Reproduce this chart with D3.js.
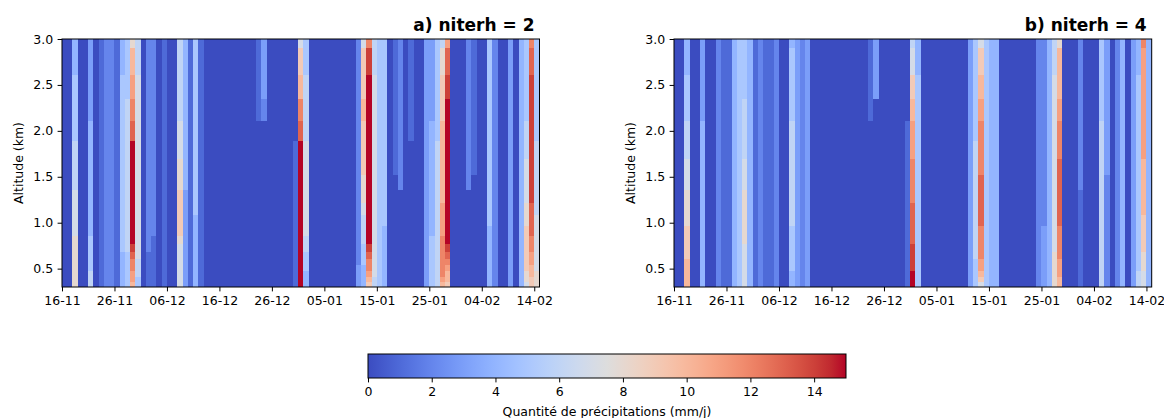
<!DOCTYPE html>
<html><head><meta charset="utf-8">
<script src="https://cdn.jsdelivr.net/npm/d3@7"></script>
<style>
body{margin:0;background:#fff}
svg{display:block}
text{font-family:"DejaVu Sans",sans-serif;fill:#000}
</style>
</head><body>
<svg id="chart" width="1164" height="418"></svg>
<script>
// ---------- data ----------
const firstDay = "2022-11-16";   // first daily column
const lastDayEnd = "2023-02-15"; // end of last daily column (14-02 inclusive)
const dateTickLabels = ["16-11","26-11","06-12","16-12","26-12","05-01","15-01","25-01","04-02","14-02"];
// model level boundaries (km), bottom -> top
const altitudeEdges = [0.30,0.36,0.415,0.475,0.54,0.61,0.685,0.77,0.865,0.965,1.085,1.22,1.36,1.52,1.70,1.89,2.11,2.355,2.615,2.905,3.0];
const altitudeTicks = [0.5,1.0,1.5,2.0,2.5,3.0];
const colorbarTicks = [0,2,4,6,8,10,12,14];
const panelTitles = ["a) niterh = 2","b) niterh = 4"];
const colorbarLabel = "Quantité de précipitations (mm/j)";
// coolwarm colormap control colours
const coolwarmStops = [
 [59,76,192],[68,90,204],[77,104,215],[87,117,225],[98,130,234],[108,142,241],[119,154,247],[130,165,251],
 [141,176,254],[152,185,255],[163,194,255],[174,201,253],[184,208,249],[194,213,244],[204,217,238],[213,219,230],
 [221,221,221],[229,216,209],[236,211,197],[241,204,185],[245,196,173],[247,187,160],[247,177,148],[247,166,135],
 [244,154,123],[241,141,111],[236,127,99],[229,112,88],[222,96,77],[213,80,66],[203,62,56],[192,40,47],[180,4,38]];
// precipitation (mm/j), one string per day, one hex digit per level (bottom -> top)
const precipNiterh2 = [
 "00000000000000000000","00000000000000000000","88888888777766655544","00000000000000000000","00000000000000000000",
 "66655555444444443333","00000000000000000000","11111111111111111111","22222222222222222222","22222222222222222222",
 "11111111111111111111","44444455555555555544","55555566666666666555","ABBCCDEFFFFFFFFDCBA8","55666777777777777766",
 "00000000000000000000","11111122222222222222","11111111222222222222","00000000000000000000","11111111111111111111",
 "00000000000000000000","00000000000000000000","77777778999988776666","33333333333344444444","11111111111111111111",
 "44444444445555555555","11111111111111111111","00000000000000000000","00000000000000000000","00000000000000000000",
 "00000000000000000000","00000000000000000000","00000000000000000000","00000000000000000000","00000000000000000000",
 "00000000000000000000","00000000000000000000","00000000000000001111","00000000000000002333","00000000000000000000",
 "00000000000000000000","00000000000000000000","00000000000000000000","00000000000000000000","11111111111111100000",
 "FFFFFFFFFFFFFFFDCA97","44455566777777766655","00000000000000000000","00000000000000000000","00000000000000000000",
 "00000000000000000000","00000000000000000000","00000000000000000000","00000000000000000000","00000000000000000000",
 "00000000000000000000","33332222222222222222","4444555666788999A997","9ABCCDEFFFFFFFFFFFEC","66777777777777777766",
 "55555555555555555555","44444444455555555555","00000000000000000000","00000000000001111111","00000000000022222222",
 "00000000000000000000","00000000000000011111","00000000000000000000","00000000000000000000","33333333333333333333",
 "55555555444444443333","66666666666666655555","ABCCCCCCBBBAAAAA9986","9AABCDEFFFFFFFFFFEDB","00000000000000000000",
 "00000000000000000000","00000000000000000000","00000000000022222222","00000000000001111111","00000000000000000000",
 "00000000000000000000","44444444455555555555","22222222222222222222","00000000000000000000","00000000000000000000",
 "33333333333333333333","00000000000000000000","44444444444444444444","78899999988777665555","99AABBCCDDDEEEEEEEDC",
 "88877777776666655555"];
const precipNiterh4 = [
 "00000000000000000000","00000000000000000000","AAAAA999988877665544","00000000000000000000","00000000000000000000",
 "44444444444444443333","00000000000000000000","00000000000000000000","22222222222222222222","11111111111111111111",
 "11111111111111111111","44444444444444444444","55555555555555555555","77777778888877666555","44444444444444444444",
 "11111111111111111111","22222222222222222222","11111111111111111111","11111111111111111111","22222222222222222222",
 "00000000000000000000","00000000000000000000","44455555566666665554","33333333333333333333","22222222222222222222",
 "33333333333333333333","00000000000000000000","00000000000000000000","00000000000000000000","00000000000000000000",
 "00000000000000000000","00000000000000000000","00000000000000000000","00000000000000000000","00000000000000000000",
 "00000000000000000000","00000000000000000000","00000000000000001111","00000000000000000333","00000000000000000000",
 "00000000000000000000","00000000000000000000","00000000000000000000","00000000000000000000","11111111111111110000",
 "FFFEEEEDDDDCCCBBA976","55555555555555555544","00000000000000000000","00000000000000000000","00000000000000000000",
 "00000000000000000000","00000000000000000000","00000000000000000000","00000000000000000000","00000000000000000000",
 "00000000000000000000","33333333333333333333","55555666666666655555","79ABBCCCCDDDDCCCBA97","55555555555555555555",
 "44444444444444444444","44444444444444444444","00000000000000000000","00000000000000000000","00000000000000000000",
 "00000000000000000000","00000000000000000000","00000000000000000000","00000000000000000000","22222222222222222222",
 "33333333322222222222","44444444444444444444","88888877777777777766","AABBBCCCCDDDDDCCBAA8","00000000000000000000",
 "00000000000000000000","00000000000000000000","11111111111122222222","00000000000000000000","00000000000000000000",
 "00000000000000000000","66666666666666665555","22222222222223333333","00000000000000000000","22222222222222222222",
 "44444444444444444444","00000000000000000000","33333333333333333333","66655555555555555544","7778889999AAAABBBBBC",
 "44444444444444444444"];

// ---------- helpers ----------
const svg = d3.select("#chart");
const dayStart = new Date(firstDay + "T00:00:00Z");
const dayEnd = new Date(lastDayEnd + "T00:00:00Z");
const days = d3.utcDay.range(dayStart, dayEnd);
const tickDates = dateTickLabels.map(s => {
  const [d, m] = s.split("-").map(Number);
  return new Date(Date.UTC(m >= 9 ? 2022 : 2023, m - 1, d));
});
const coolwarm = d3.piecewise(d3.interpolateRgb, coolwarmStops.map(c => d3.rgb(c[0], c[1], c[2])));
const color = d3.scaleSequential(coolwarm).domain([0, 15]).clamp(true);

const plotTop = 39, plotBottom = 287;
const panels = [
  {x0: 62, x1: 539.5, data: precipNiterh2, title: panelTitles[0], ylabX: 18.5},
  {x0: 674, x1: 1151.7, data: precipNiterh4, title: panelTitles[1], ylabX: 630}
];

panels.forEach(p => {
  const x = d3.scaleUtc().domain([dayStart, dayEnd]).range([p.x0, p.x1]);
  const y = d3.scaleLinear().domain([0.3, 3.0]).range([plotBottom, plotTop]);
  const g = svg.append("g");
  const cells = [];
  days.forEach((d, i) => {
    const col = p.data[i];
    for (let j = 0; j < altitudeEdges.length - 1; j++) {
      cells.push({d0: d, d1: d3.utcDay.offset(d, 1), a0: altitudeEdges[j], a1: altitudeEdges[j + 1], v: parseInt(col[j], 16)});
    }
  });
  g.append("g").attr("shape-rendering", "crispEdges").selectAll("rect").data(cells).join("rect")
    .attr("x", c => x(c.d0)).attr("width", c => x(c.d1) - x(c.d0) + 0.4)
    .attr("y", c => y(c.a1)).attr("height", c => y(c.a0) - y(c.a1) + 0.4)
    .attr("fill", c => color(c.v));

  // frame
  g.append("rect").attr("x", p.x0).attr("y", plotTop).attr("width", p.x1 - p.x0).attr("height", plotBottom - plotTop)
    .attr("fill", "none").attr("stroke", "#000").attr("stroke-width", 1);

  const xa = g.append("g").attr("transform", `translate(0,${plotBottom})`)
    .call(d3.axisBottom(x).tickValues(tickDates).tickFormat(d3.utcFormat("%d-%m")).tickSize(4.4).tickPadding(4.5));
  const ya = g.append("g").attr("transform", `translate(${p.x0},0)`)
    .call(d3.axisLeft(y).tickValues(altitudeTicks).tickFormat(d3.format(".1f")).tickSize(4.4).tickPadding(4.5));
  [xa, ya].forEach(a => {
    a.select(".domain").remove();
    a.selectAll("line").attr("stroke", "#000").attr("stroke-width", 1);
    a.selectAll("text").attr("font-size", 12.5).attr("font-family", "DejaVu Sans").attr("fill", "#000");
  });

  g.append("text").attr("x", p.x1 - 5).attr("y", 31).attr("text-anchor", "end")
    .attr("font-size", 17).attr("font-weight", "bold").text(p.title);
  g.append("text").attr("transform", `translate(${p.ylabX},${(plotTop + plotBottom) / 2}) rotate(-90)`)
    .attr("text-anchor", "middle").attr("dominant-baseline", "central").attr("font-size", 12.5).text("Altitude (km)");
});

// ---------- colorbar ----------
const cbX0 = 368, cbX1 = 846, cbY0 = 354, cbY1 = 378;
const cb = d3.scaleLinear().domain([0, 15]).range([cbX0, cbX1]);
const defs = svg.append("defs");
const grad = defs.append("linearGradient").attr("id", "cw").attr("x1", "0%").attr("x2", "100%");
coolwarmStops.forEach((c, i) => grad.append("stop").attr("offset", (i / (coolwarmStops.length - 1) * 100) + "%")
  .attr("stop-color", d3.rgb(c[0], c[1], c[2]).formatHex()));
svg.append("rect").attr("x", cbX0).attr("y", cbY0).attr("width", cbX1 - cbX0).attr("height", cbY1 - cbY0)
  .attr("fill", "url(#cw)").attr("stroke", "#000").attr("stroke-width", 1);
const cba = svg.append("g").attr("transform", `translate(0,${cbY1})`)
  .call(d3.axisBottom(cb).tickValues(colorbarTicks).tickFormat(d3.format("d")).tickSize(4.4).tickPadding(4.5));
cba.select(".domain").remove();
cba.selectAll("line").attr("stroke", "#000");
cba.selectAll("text").attr("font-size", 12.5).attr("font-family", "DejaVu Sans").attr("fill", "#000");
svg.append("text").attr("x", (cbX0 + cbX1) / 2).attr("y", 415.5).attr("text-anchor", "middle")
  .attr("font-size", 12.5).text(colorbarLabel);
</script>
</body></html>
